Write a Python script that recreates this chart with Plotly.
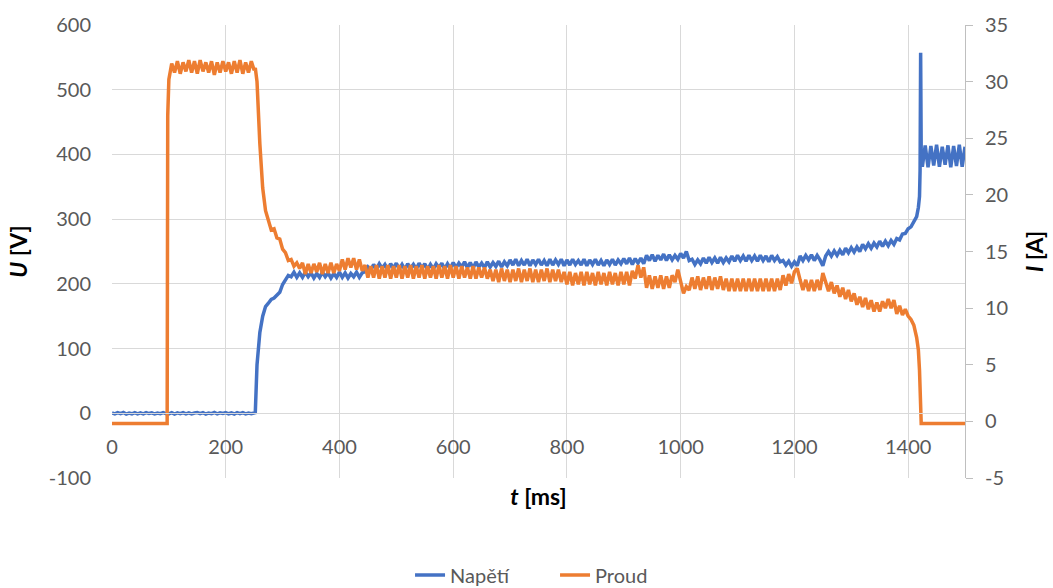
import plotly.graph_objects as go

# ---- data ----
# base sampling times [ms]
T_MS = list(range(0, 1501, 5))

NAPETI_V = [
    # 0-95
    0.5, -1, 1, -0.5, 1.2, -1.2, 0.3, -0.8, 1, -1, 0.6, -0.9, 1.1, -0.4, 0.8, -1.1, 0.4, -0.7, 1, -0.6,
    # 100-195
    -0.8, 1, -1.2, 0.6, -0.5, 1.1, -0.9, 0.7, -1, 0.4, 1, -0.7, 0.9, -1.1, 0.5, -0.6, 1.2, -0.9, 0.6, -0.4,
    # 200-295
    1, -0.8, 0.5, -1.1, 0.9, -0.5, 1.1, -0.9, 0.4, -0.6, 0.5, 75, 125, 150, 165, 170, 176, 178, 183, 187,
    # 300-395
    199, 206, 213, 211, 218, 210, 217, 210, 218, 211, 217, 209, 216, 210, 218, 211, 217, 209, 216, 210,
    # 400-495
    218, 210, 217, 209, 216, 211, 218, 210, 217, 219, 226, 221, 230, 223, 231, 224, 230, 222, 231, 224,
    # 500-595
    232, 223, 230, 222, 231, 224, 230, 223, 232, 224, 231, 222, 230, 223, 231, 225, 232, 223, 231, 224,
    # 600-695
    233, 225, 232, 226, 234, 225, 233, 224, 234, 226, 232, 225, 234, 226, 233, 227, 235, 226, 234, 228,
    # 700-795
    237, 229, 238, 228, 236, 229, 238, 228, 237, 230, 238, 229, 236, 228, 238, 229, 237, 230, 238, 228,
    # 800-895
    237, 229, 238, 230, 236, 229, 238, 228, 237, 230, 238, 229, 236, 228, 237, 230, 238, 229, 237, 231,
    # 900-995
    239, 231, 240, 230, 239, 232, 240, 231, 244, 236, 245, 235, 244, 237, 246, 236, 245, 237, 244, 238,
    # 1000-1095
    247, 240, 250, 236, 238, 230, 237, 231, 240, 232, 241, 233, 240, 232, 241, 233, 240, 234, 243, 235,
    # 1100-1195
    244, 236, 243, 235, 244, 236, 243, 235, 244, 236, 243, 234, 244, 236, 242, 234, 236, 229, 235, 227,
    # 1200-1295
    234, 228, 243, 236, 244, 237, 245, 236, 244, 237, 228, 243, 250, 243, 251, 244, 252, 245, 255, 248,
    # 1300-1395
    256, 249, 257, 250, 261, 254, 262, 255, 263, 257, 266, 258, 266, 259, 267, 261, 270, 268, 277, 278,
    # 1400-1495
    285, 288, 296, 304, 335, 381, 414, 380, 413, 383, 415, 381, 412, 384, 414, 380, 413, 382, 415, 381,
    # 1500
    412,
]

PROUD_A = [
    # 0-95
    -0.18, -0.18, -0.18, -0.18, -0.18, -0.18, -0.18, -0.18, -0.18, -0.18,
    -0.18, -0.18, -0.18, -0.18, -0.18, -0.18, -0.18, -0.18, -0.18, -0.18,
    # 100-195
    30.2, 31.6, 30.8, 31.8, 30.7, 31.7, 30.9, 31.9, 30.8, 31.8, 30.7, 31.9, 30.9, 31.7, 30.8, 31.8, 30.6, 31.7, 30.8, 31.8,
    # 200-295
    30.9, 31.7, 30.7, 31.8, 30.8, 31.9, 30.7, 31.7, 30.8, 31.8, 31.0, 30.0, 24.5, 20.6, 18.6, 17.8, 16.9, 17.0, 16.2, 16.1,
    # 300-395
    15.2, 14.9, 14.2, 14.3, 13.7, 14.0, 13.5, 14.0, 13.0, 13.9, 13.1, 13.9, 13.2, 14.0, 13.0, 13.9, 13.1, 14.0, 13.1, 13.9,
    # 400-495
    13.3, 14.3, 13.4, 14.4, 13.6, 14.4, 13.4, 14.3, 13.3, 13.8, 12.7, 13.7, 12.7, 13.8, 12.6, 13.7, 12.7, 13.8, 12.6, 13.7,
    # 500-595
    12.7, 13.8, 12.6, 13.7, 12.7, 13.8, 12.6, 13.7, 12.7, 13.8, 12.6, 13.7, 12.7, 13.7, 12.6, 13.8, 12.7, 13.7, 12.6, 13.8,
    # 600-695
    12.7, 13.7, 12.6, 13.7, 12.7, 13.6, 12.6, 13.7, 12.6, 13.6, 12.7, 13.6, 12.6, 13.4, 12.4, 13.4, 12.3, 13.5, 12.4, 13.4,
    # 700-795
    12.3, 13.4, 12.4, 13.5, 12.3, 13.4, 12.4, 13.5, 12.3, 13.4, 12.3, 13.4, 12.4, 13.5, 12.3, 13.4, 12.4, 13.4, 12.3, 13.2,
    # 800-895
    12.1, 13.2, 12.0, 13.1, 12.1, 13.2, 12.0, 13.2, 12.1, 13.1, 12.0, 13.2, 12.1, 13.1, 12.0, 13.2, 12.1, 13.1, 12.0, 13.2,
    # 900-995
    12.1, 13.2, 12.0, 13.3, 12.6, 13.8, 12.7, 13.6, 11.8, 12.9, 11.7, 12.8, 11.8, 12.9, 11.7, 12.8, 11.8, 12.9, 12.3, 13.4,
    # 1000-1095
    12.2, 11.3, 11.9, 11.6, 12.7, 11.7, 12.8, 11.6, 12.7, 11.7, 12.8, 11.6, 12.7, 11.7, 12.8, 11.6, 12.6, 11.5, 12.6, 11.5,
    # 1100-1195
    12.6, 11.5, 12.6, 11.5, 12.6, 11.5, 12.6, 11.5, 12.6, 11.5, 12.6, 11.5, 12.6, 11.5, 12.6, 11.6, 12.9, 12.0, 13.0, 12.2,
    # 1200-1295
    13.2, 13.5, 12.5, 11.6, 12.5, 11.5, 12.5, 11.5, 12.5, 11.6, 13.1, 12.4, 11.5, 12.3, 11.3, 12.0, 11.0, 11.8, 10.8, 11.6,
    # 1300-1395
    10.6, 11.3, 10.3, 11.0, 10.1, 10.9, 9.9, 10.7, 9.7, 10.5, 9.7, 10.6, 10.0, 10.8, 10.0, 10.7, 9.5, 10.2, 9.4, 9.9,
    # 1400-1495
    9.3, 9.0, 8.5, 7.4, 4.5, -0.18, -0.18, -0.18, -0.18, -0.18,
    -0.18, -0.18, -0.18, -0.18, -0.18, -0.18, -0.18, -0.18, -0.18, -0.18,
    # 1500
    -0.18,
]

# extra samples around the fast transitions
EXTRA_T = [97, 98, 252, 1418, 1421, 1422, 1423]
EXTRA_NAPETI_V = [0.3, -0.3, 1, 318, 375, 557, 405]
EXTRA_PROUD_A = [-0.18, 27, 31.2, 6.3, 3.0, 1.5, -0.18]

X_TICKS = [0, 200, 400, 600, 800, 1000, 1200, 1400]
U_TICKS = [-100, 0, 100, 200, 300, 400, 500, 600]
U_LABELS = ["-100", "0", "100", "200", "300", "400", "500", "600"]
I_TICKS = [-5, 0, 5, 10, 15, 20, 25, 30, 35]
I_LABELS = ["-5", "0", "5", "10", "15", "20", "25", "30", "35"]

# ---- build series ----
u_pts = sorted(zip(T_MS + EXTRA_T, NAPETI_V + EXTRA_NAPETI_V))
i_pts = sorted(zip(T_MS + EXTRA_T, PROUD_A + EXTRA_PROUD_A))

FONT = "Lato, 'Open Sans', Arial, sans-serif"
GRID = "#d9d9d9"
TXT = "#595959"

fig = go.Figure()
fig.add_trace(go.Scatter(
    x=[p[0] for p in u_pts], y=[p[1] for p in u_pts], name="Napětí",
    mode="lines", line=dict(color="#4472C4", width=3.5), yaxis="y",
))
fig.add_trace(go.Scatter(
    x=[p[0] for p in i_pts], y=[p[1] for p in i_pts], name="Proud",
    mode="lines", line=dict(color="#ED7D31", width=3.5), yaxis="y2",
))
# invisible anchor trace so the tick-mark axis is drawn
fig.add_trace(go.Scatter(x=[0], y=[-5], yaxis="y3", mode="markers",
                         marker=dict(opacity=0), showlegend=False, hoverinfo="skip"))

fig.update_layout(
    width=1053, height=588,
    margin=dict(l=112, r=88, t=25, b=110, autoexpand=False),
    paper_bgcolor="white", plot_bgcolor="white",
    font=dict(family=FONT, size=20, color=TXT),
    showlegend=True,
    legend=dict(orientation="h", x=0.3494, xanchor="left", y=-0.214, yanchor="middle",
                entrywidth=100, entrywidthmode="pixels",
                font=dict(size=20, color=TXT), traceorder="normal"),
    xaxis=dict(
        range=[0, 1500], tickvals=X_TICKS, showgrid=True, gridcolor=GRID, gridwidth=1,
        zeroline=False, showline=True, linecolor=GRID, linewidth=1, automargin=False,
        anchor="free", position=1 / 7, ticks="", ticklabelstandoff=16,
        tickfont=dict(size=20, color=TXT),
        title=dict(text="<b><i>t</i> [ms]</b>", font=dict(size=23, color="#000000"), standoff=31),
    ),
    yaxis=dict(
        range=[-100, 600], tickvals=U_TICKS, ticktext=U_LABELS, showgrid=True, gridcolor=GRID,
        gridwidth=1, zeroline=False, showline=False, ticks="", ticklabelstandoff=20,
        automargin=False, tickfont=dict(size=20, color=TXT),
        title=dict(text="<b><i>U</i> [V]</b>", font=dict(size=23, color="#000000"), standoff=14),
    ),
    # right axis: labels and title
    yaxis2=dict(
        range=[-5, 35], tickvals=I_TICKS, ticktext=I_LABELS, overlaying="y", side="right",
        showgrid=False, zeroline=False, showline=False, ticks="", ticklabelstandoff=19,
        automargin=False, tickfont=dict(size=20, color=TXT),
        title=dict(text="<b><i>I</i> [A]</b>", font=dict(size=23, color="#000000"), standoff=19),
    ),
    # right axis: line and small outside tick marks at the plot edge
    yaxis3=dict(
        range=[-5, 35], tickvals=I_TICKS, overlaying="y", side="right", anchor="x",
        showgrid=False, zeroline=False, showline=True, linecolor="#bfbfbf", linewidth=1,
        showticklabels=False, ticks="outside", ticklen=7, tickcolor="#bfbfbf",
        automargin=False,
    ),
)

fig.write_html("out.html", config={"displayModeBar": False},
               post_script="document.body.style.margin='0';")
